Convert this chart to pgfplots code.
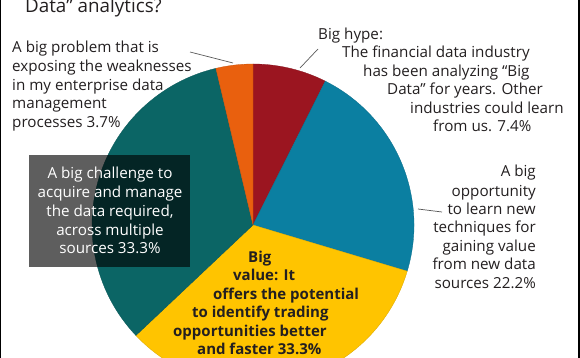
\documentclass[border=0pt]{standalone}
\usepackage{fontspec}
\setmainfont{Open Sans}
\usepackage{pgfplots}
\pgfplotsset{compat=1.18}
\definecolor{pred}{HTML}{9B1520}
\definecolor{pblue}{HTML}{0B7FA1}
\definecolor{pyellow}{HTML}{FFC400}
\definecolor{pteal}{HTML}{0B6565}
\definecolor{porange}{HTML}{E9600E}
\definecolor{txt}{HTML}{231F20}
\newcommand{\body}{\fontsize{15.2}{18.7}\selectfont}
\newcommand{\bbody}{\fontsize{15}{18.7}\selectfont\bfseries}
\begin{document}
\begin{tikzpicture}[x=1pt,y=1pt]
% slice values (percent), clockwise from 12 o'clock
\def\vA{7.4}\def\vB{22.2}\def\vC{33.3}\def\vD{33.3}\def\vE{3.7}
\pgfmathsetmacro\tot{\vA+\vB+\vC+\vD+\vE}
\pgfmathsetmacro\aA{90}
\pgfmathsetmacro\aB{\aA-360*\vA/\tot}
\pgfmathsetmacro\aC{\aB-360*\vB/\tot}
\pgfmathsetmacro\aD{\aC-360*\vC/\tot}
\pgfmathsetmacro\aE{\aD-360*\vD/\tot}
\pgfmathsetmacro\aF{\aE-360*\vE/\tot}
\begin{axis}[scale only axis, width=580pt, height=358pt,
  xmin=0, xmax=580, ymin=0, ymax=358, hide axis, clip=true,
  at={(0,0)}, anchor=south west]
\def\pie#1#2#3{\filldraw[fill=#3, draw=#3!85!black, line width=0.3pt]
  (axis cs:253,133) -- ++(#1:161pt) arc[start angle=#1, end angle=#2, radius=161pt] -- cycle;}
\pie{\aA}{\aB}{pred}
\pie{\aB}{\aC}{pblue}
\pie{\aC}{\aD}{pyellow}
\pie{\aD}{\aE}{pteal}
\pie{\aE}{\aF}{porange}
% gray label box
\fill[black, fill opacity=0.63] (axis cs:29,91) rectangle (axis cs:190,203);
% borders
\fill[black] (axis cs:0,0) rectangle (axis cs:1.4,358);
\fill[black] (axis cs:578,0) rectangle (axis cs:580,358);
% leader lines
\draw[black!65, line width=0.7pt] (axis cs:190,306) -- (axis cs:233,295);
\draw[black!65, line width=0.7pt] (axis cs:300,290) -- (axis cs:318,309);
\draw[black!65, line width=0.7pt] (axis cs:418,149) -- (axis cs:442,146);
% title
\node[anchor=base west, inner sep=0, text=txt, font=\fontsize{18.8}{22}\selectfont] at (axis cs:25,345) {Data” analytics?};
% orange label
\begin{scope}[every node/.style={anchor=base west, inner sep=0, text=txt, font=\body}]
\node at (axis cs:12,305) {A big problem that is};
\node at (axis cs:12,286) {exposing the weaknesses};
\node at (axis cs:12,267) {in my enterprise data};
\node at (axis cs:12,249) {management};
\node at (axis cs:12,230) {processes 3.7\%};
% red label
\node at (axis cs:318,318) {Big hype:};
\node at (axis cs:342,300) {The financial data industry};
\node at (axis cs:363,281) {has been analyzing “Big};
\node at (axis cs:387,263) {Data” for years. Other};
\node at (axis cs:410,244) {industries could learn};
\node at (axis cs:433,226) {from us. 7.4\%};
\end{scope}
% blue label
\begin{scope}[every node/.style={anchor=base east, inner sep=0, text=txt, font=\body}]
\node at (axis cs:536,181) {A big};
\node at (axis cs:536,161) {opportunity};
\node at (axis cs:536,143) {to learn new};
\node at (axis cs:536,125) {techniques for};
\node at (axis cs:536,106) {gaining value};
\node at (axis cs:536,88) {from new data};
\node at (axis cs:536,69) {sources 22.2\%};
\end{scope}
% teal label
\begin{scope}[every node/.style={anchor=base, inner sep=0, text=white, font=\body}]
\node at (axis cs:110,179) {A big challenge to};
\node at (axis cs:110,160) {acquire and manage};
\node at (axis cs:110,141) {the data required,};
\node at (axis cs:110,122) {across multiple};
\node at (axis cs:110,104) {sources 33.3\%};
\end{scope}
% yellow label
\begin{scope}[every node/.style={anchor=base west, inner sep=0, text=txt, font=\bbody}]
\node at (axis cs:248,95) {Big};
\node at (axis cs:233,77) {value: It};
\node at (axis cs:213,58) {offers the potential};
\node at (axis cs:192,40) {to identify trading};
\node at (axis cs:173,21) {opportunities better};
\node at (axis cs:197,3) {and faster 33.3\%};
\end{scope}
\end{axis}
\pgfresetboundingbox
\useasboundingbox (0,0) rectangle (580,358);
\end{tikzpicture}
\end{document}
